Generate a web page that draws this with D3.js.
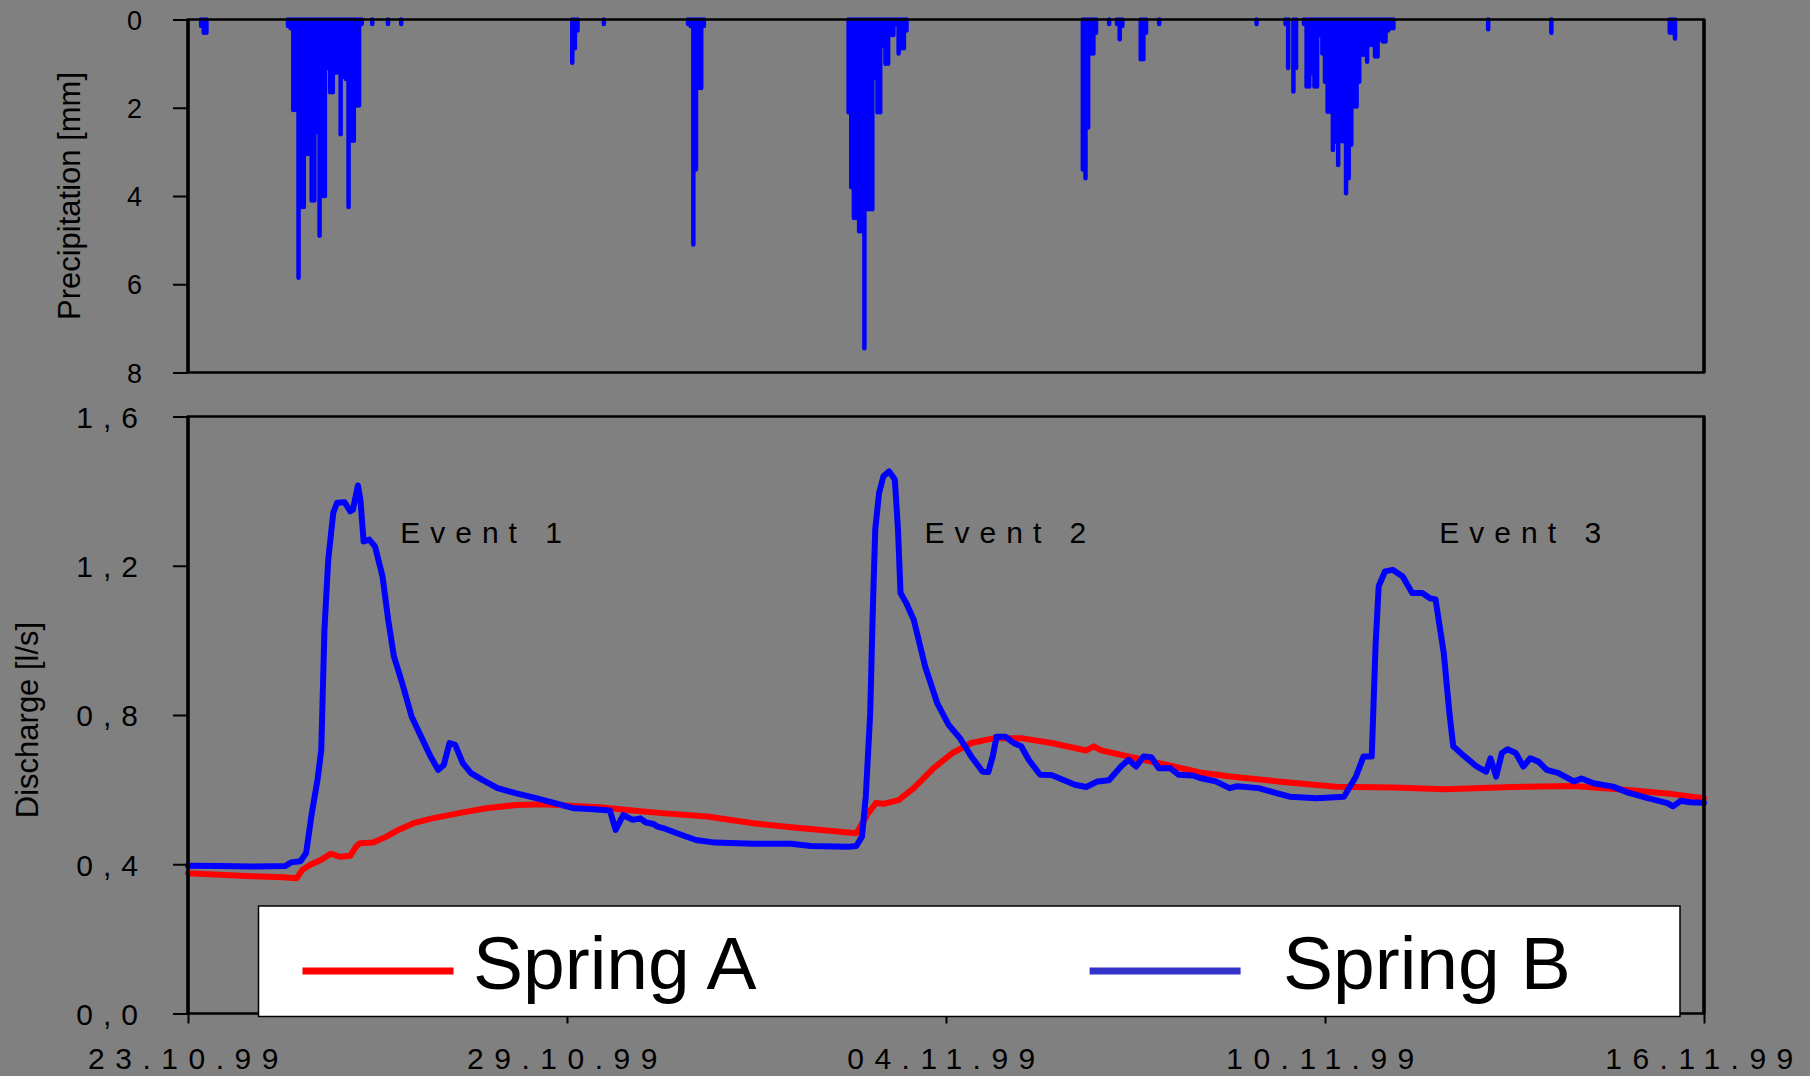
<!DOCTYPE html>
<html>
<head>
<meta charset="utf-8">
<script src="https://cdn.jsdelivr.net/npm/d3@7"></script>
<style>
  body { margin: 0; background: #808080; }
  svg { display: block; font-family: "Liberation Sans", Arial, sans-serif; }
</style>
</head>
<body>
<div id="chart"></div>
<script>
// precipitation: [hours since 23.10.99 00:00, mm]
const precip = [
  [5,0.15],[6,0.3],[7,0.3],
  [38,0.15],[39,0.2],[40,2.05],[41,2.05],[42,5.85],[43,4.25],[44,4.25],[45,3.05],[46,3.05],[47,4.1],[48,4.1],
  [49,2.55],[50,4.9],[51,4.0],[52,4.0],[53,1.1],[54,1.65],[55,1.65],[56,1.2],[57,1.2],[58,2.6],[59,1.3],
  [60,1.35],[61,4.25],[62,2.75],[63,2.75],[64,1.95],[65,1.95],[66,0.1],
  [70,0.1],[76,0.1],[81,0.1],
  [146,0.98],[147,0.65],[148,0.25],[158,0.1],
  [190,0.1],[191,0.15],[192,5.1],[193,3.4],[194,1.55],[195,1.55],[196,0.15],
  [251,2.1],[252,3.8],[253,4.5],[254,4.5],[255,4.8],[256,4.8],[257,7.45],[258,4.3],[259,4.3],[260,4.3],
  [261,1.33],[262,2.1],[263,2.1],[264,0.6],[265,1.0],[266,1.0],[267,0.35],[268,0.35],[269,0.1],[270,0.77],
  [271,0.65],[272,0.65],[273,0.25],
  [340,3.4],[341,3.6],[342,2.45],[343,0.77],[344,0.77],[345,0.3],[350,0.1],[353,0.1],[354,0.45],[355,0.15],
  [362,0.9],[363,0.9],[364,0.3],[369,0.1],
  [406,0.1],
  [417,0.1],[418,1.1],[420,1.63],[421,1.1],[424,0.1],[425,1.52],[426,1.52],[427,1.22],[428,1.52],[429,1.52],
  [430,0.35],[431,0.77],[432,1.41],[433,2.09],[434,2.09],[435,2.96],[436,2.77],[437,3.3],[438,2.76],[439,2.76],
  [440,3.94],[441,3.6],[442,2.84],[443,1.97],[444,1.97],[445,1.41],[446,0.8],[447,0.8],[448,0.96],[449,0.58],
  [450,0.58],[451,0.84],[452,0.84],[453,0.46],[454,0.5],[455,0.5],[456,0.25],[457,0.2],[458,0.2],
  [494,0.22],[518,0.3],[563,0.3],[564,0.3],[565,0.43]
];

// discharge: [days since 23.10.99, l/s]
const springA = [
  [0,0.376],[0.5,0.372],[1.0,0.368],[1.5,0.365],[1.72,0.3625],[1.81,0.385],[1.93,0.398],[2.11,0.412],
  [2.26,0.428],[2.42,0.42],[2.57,0.423],[2.66,0.447],[2.72,0.456],[2.93,0.458],[3.14,0.474],[3.33,0.492],
  [3.57,0.51],[3.87,0.523],[4.29,0.537],[4.72,0.55],[5.2,0.559],[5.63,0.561],[6.11,0.556],[6.52,0.553],
  [7.0,0.545],[7.5,0.537],[8.22,0.528],[8.95,0.51],[9.55,0.499],[10.16,0.49],[10.58,0.483],[10.77,0.537],
  [10.89,0.564],[11.01,0.562],[11.25,0.572],[11.49,0.604],[11.8,0.657],[12.1,0.698],[12.4,0.725],
  [12.77,0.738],[13.19,0.738],[13.67,0.725],[14.22,0.705],[14.34,0.716],[14.46,0.705],[15.01,0.684],
  [15.61,0.662],[16.02,0.646],[16.5,0.635],[17.26,0.622],[18.18,0.608],[19.1,0.606],[19.9,0.601],
  [20.95,0.607],[21.94,0.61],[22.8,0.599],[23.5,0.588],[24,0.577]
];

const springB = [
  [0,0.396],[0.5,0.395],[1.0,0.394],[1.54,0.395],[1.63,0.405],[1.78,0.408],[1.87,0.43],[1.96,0.537],
  [2.05,0.626],[2.11,0.706],[2.16,1.028],[2.22,1.216],[2.3,1.342],[2.36,1.369],[2.48,1.37],[2.57,1.346],
  [2.61,1.35],[2.69,1.415],[2.73,1.377],[2.78,1.265],[2.87,1.27],[2.96,1.252],[3.08,1.171],[3.17,1.055],
  [3.26,0.957],[3.39,0.886],[3.54,0.796],[3.69,0.742],[3.84,0.689],[3.96,0.653],[4.05,0.666],[4.14,0.725],
  [4.23,0.72],[4.35,0.671],[4.48,0.644],[4.66,0.626],[4.9,0.604],[5.2,0.59],[5.51,0.577],[5.81,0.564],
  [6.11,0.55],[6.36,0.548],[6.52,0.546],[6.68,0.544],[6.77,0.492],[6.89,0.532],[7.04,0.519],[7.16,0.523],
  [7.25,0.512],[7.37,0.508],[7.43,0.501],[7.52,0.497],[7.74,0.483],[8.04,0.465],[8.34,0.458],[8.95,0.455],
  [9.55,0.455],[9.86,0.449],[10.46,0.447],
  [10.58,0.449],[10.67,0.474],[10.73,0.581],[10.8,0.805],[10.84,1.073],[10.88,1.297],[10.94,1.395],
  [11.01,1.44],[11.1,1.453],[11.19,1.431],[11.24,1.297],[11.28,1.127],[11.37,1.1],[11.49,1.055],
  [11.67,0.93],[11.86,0.832],[12.04,0.774],[12.22,0.738],[12.4,0.689],[12.58,0.648],[12.67,0.647],
  [12.74,0.689],[12.8,0.742],[12.94,0.742],[13.07,0.725],[13.19,0.716],[13.31,0.68],[13.49,0.64],
  [13.67,0.639],[13.86,0.626],[14.04,0.613],[14.22,0.607],[14.4,0.622],[14.58,0.625],[14.77,0.662],
  [14.89,0.68],[15.01,0.662],[15.13,0.689],[15.25,0.687],[15.37,0.657],[15.55,0.658],[15.68,0.64],
  [15.91,0.638],[16.02,0.631],[16.27,0.622],[16.49,0.604],[16.61,0.609],[16.95,0.604],[17.44,0.581],
  [17.87,0.577],[18.3,0.581],[18.49,0.635],[18.61,0.689],[18.74,0.689],[18.8,0.984],[18.85,1.145],
  [18.95,1.185],[19.07,1.189],[19.23,1.171],[19.38,1.127],[19.54,1.127],[19.66,1.113],[19.75,1.11],
  [19.88,0.966],[19.97,0.805],[20.03,0.716],[20.21,0.689],[20.4,0.662],[20.55,0.648],[20.62,0.684],
  [20.71,0.635],[20.8,0.698],[20.89,0.708],[21.02,0.698],[21.14,0.662],[21.25,0.684],[21.38,0.675],
  [21.51,0.653],[21.69,0.645],[21.94,0.622],[22.06,0.63],[22.25,0.617],[22.56,0.608],[22.8,0.592],
  [23.11,0.577],[23.42,0.564],[23.51,0.555],[23.63,0.57],[23.78,0.566],[23.97,0.565],[24,0.565]
];

const dateTicks = [0, 6, 12, 18, 24];
const dateLabels = ["23.10.99", "29.10.99", "04.11.99", "10.11.99", "16.11.99"];
const precipTicks = [0, 2, 4, 6, 8];
const dischargeTicks = [0, 0.4, 0.8, 1.2, 1.6];
const eventNames = ["Event 1", "Event 2", "Event 3"];
const eventDays = [3.36, 11.66, 19.81];
const eventQ = 1.26;
const seriesNames = ["Spring A", "Spring B"];

const W = 1810, H = 1076;
const LEFT = 188, RIGHT = 1704;
const TOP1 = 19.5, BOT1 = 372.5, TOP2 = 416.5, BOT2 = 1013.5;

const svg = d3.select("#chart").append("svg")
  .attr("width", W).attr("height", H);

svg.append("rect").attr("width", W).attr("height", H).attr("fill", "#808080");

const x = d3.scaleLinear().domain([0, 24]).range([LEFT, RIGHT]);
const yP = d3.scaleLinear().domain([0, 8]).range([TOP1, BOT1]);
const yQ = d3.scaleLinear().domain([0, 1.6]).range([BOT2, TOP2]);

// ---- precipitation panel
svg.append("g").selectAll("line").data(precip).enter().append("line")
  .attr("x1", d => x(d[0] / 24)).attr("x2", d => x(d[0] / 24))
  .attr("y1", yP(0)).attr("y2", d => yP(d[1]))
  .attr("stroke", "#0000ff").attr("stroke-width", 4.5).attr("stroke-linecap", "round");

function frame(top, bottom) {
  svg.append("rect").attr("x", LEFT).attr("y", top)
    .attr("width", RIGHT - LEFT).attr("height", bottom - top)
    .attr("fill", "none").attr("stroke", "#000").attr("stroke-width", 2.5);
  svg.append("line").attr("x1", LEFT).attr("x2", LEFT).attr("y1", top).attr("y2", bottom)
    .attr("stroke", "#000").attr("stroke-width", 3.5);
  svg.append("line").attr("x1", RIGHT).attr("x2", RIGHT).attr("y1", top).attr("y2", bottom)
    .attr("stroke", "#000").attr("stroke-width", 3.5);
}
frame(TOP1, BOT1);

const yPAxis = svg.append("g").attr("transform", `translate(${LEFT},0)`)
  .call(d3.axisLeft(yP).tickValues(precipTicks).tickSize(15).tickPadding(31));
yPAxis.select(".domain").remove();
yPAxis.selectAll("line").attr("stroke", "#000").attr("stroke-width", 2);
yPAxis.selectAll("text").attr("font-size", 27).attr("dy", "0.36em").attr("fill", "#000")
  .attr("font-family", "Liberation Sans, Arial, sans-serif");

svg.append("text").attr("transform", `translate(80,${(TOP1 + BOT1) / 2}) rotate(-90)`)
  .attr("text-anchor", "middle").attr("font-size", 31).text("Precipitation [mm]");

// ---- discharge panel
const line = d3.line().x(d => x(d[0])).y(d => yQ(d[1]));
svg.append("path").datum(springA).attr("d", line)
  .attr("fill", "none").attr("stroke", "#ff0000").attr("stroke-width", 6)
  .attr("stroke-linejoin", "round").attr("stroke-linecap", "round");
svg.append("path").datum(springB).attr("d", line)
  .attr("fill", "none").attr("stroke", "#0000ff").attr("stroke-width", 6)
  .attr("stroke-linejoin", "round").attr("stroke-linecap", "round");

frame(TOP2, BOT2);

const yQAxis = svg.append("g").attr("transform", `translate(${LEFT},0)`)
  .call(d3.axisLeft(yQ).tickValues(dischargeTicks).tickSize(15).tickPadding(25)
    .tickFormat(d => d3.format(".1f")(d).replace(".", ",")));
yQAxis.select(".domain").remove();
yQAxis.selectAll("line").attr("stroke", "#000").attr("stroke-width", 2);
yQAxis.selectAll("text").attr("font-size", 30).attr("dy", "0.36em").attr("fill", "#000")
  .attr("letter-spacing", 10).attr("font-family", "Liberation Sans, Arial, sans-serif");

const xAxis = svg.append("g").attr("transform", `translate(0,${BOT2})`)
  .call(d3.axisBottom(x).tickValues(dateTicks).tickSize(10).tickPadding(24.5)
    .tickFormat((d, i) => dateLabels[i]));
xAxis.select(".domain").remove();
xAxis.selectAll("line").attr("stroke", "#000").attr("stroke-width", 2);
xAxis.selectAll("text").attr("font-size", 30).attr("fill", "#000")
  .attr("letter-spacing", 10.5).attr("font-family", "Liberation Sans, Arial, sans-serif");

svg.append("text").attr("transform", `translate(38,720) rotate(-90)`)
  .attr("text-anchor", "middle").attr("font-size", 31).text("Discharge [l/s]");

svg.append("g").selectAll("text").data(eventNames).enter().append("text")
  .attr("x", (d, i) => x(eventDays[i])).attr("y", yQ(eventQ))
  .attr("font-size", 30).attr("letter-spacing", 10).attr("fill", "#000")
  .text(d => d);

// ---- legend
const legend = svg.append("g");
legend.append("rect").attr("x", 258.5).attr("y", 906).attr("width", 1421.5).attr("height", 110.5)
  .attr("fill", "#fff").attr("stroke", "#000").attr("stroke-width", 1.5);
const legendColors = ["#ff0000", "#3333cc"];
const legendLineX = [302.5, 1089.6];
const legendTextX = [473, 1283];
seriesNames.forEach((name, i) => {
  legend.append("line").attr("x1", legendLineX[i]).attr("x2", legendLineX[i] + 151)
    .attr("y1", 971).attr("y2", 971)
    .attr("stroke", legendColors[i]).attr("stroke-width", 7);
  legend.append("text").attr("x", legendTextX[i]).attr("y", 989)
    .attr("font-size", 75).attr("fill", "#000").text(name);
});
</script>
</body>
</html>
